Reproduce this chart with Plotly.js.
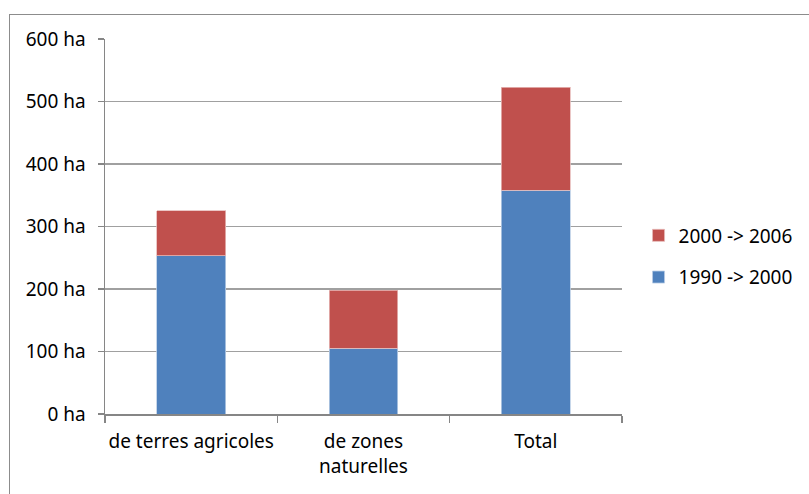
<!DOCTYPE html>
<html>
<head>
<meta charset="utf-8">
<script src="https://cdn.plot.ly/plotly-3.0.1.min.js"></script>
<style>
  html, body { margin: 0; padding: 0; background: #ffffff; }
  #wrap { position: relative; width: 809px; height: 494px; overflow: hidden; }
  #chart { position: absolute; left: 0; top: 0; width: 809px; height: 494px; }
  #frame { position: absolute; left: 9px; top: 14px; width: 820px; height: 500px;
           border-left: 1.5px solid #8c8c8c; border-top: 1.5px solid #8c8c8c; pointer-events: none; }
</style>
</head>
<body>
<div id="wrap">
  <div id="chart"></div>
  <div id="frame"></div>
</div>
<script>
const categories = ["de terres agricoles", "de zones<br>naturelles", "Total"];
const series1990 = [253, 105, 358];
const series2000 = [72, 93, 165];
const seriesNames = ["1990 -> 2000", "2000 -> 2006"];
const yTicks = [0, 100, 200, 300, 400, 500, 600];
const yTickLabels = yTicks.map(v => v + " ha");

const font = "Noto Sans, Open Sans, sans-serif";

const traces = [
  { type: "bar", name: seriesNames[0], x: categories, y: series1990,
    marker: { color: "#4F81BD", line: { color: "#b9cde5", width: 0.8 } },
    legendgroup: "a", legendrank: 2, hoverinfo: "x+y+name" },
  { type: "bar", name: seriesNames[1], x: categories, y: series2000,
    marker: { color: "#C0504D", line: { color: "#e6b9b8", width: 0.8 } },
    legendgroup: "b", legendrank: 1, hoverinfo: "x+y+name" }
];

const layout = {
  width: 809, height: 494,
  margin: { l: 105, r: 186, t: 39, b: 80, pad: 0 },
  paper_bgcolor: "#ffffff", plot_bgcolor: "#ffffff",
  barmode: "stack",
  bargap: 0.6,
  font: { family: font, size: 19, color: "#000000" },
  showlegend: true,
  legend: {
    x: 1.03, xanchor: "left", y: 0.42, yanchor: "middle",
    traceorder: "grouped", tracegroupgap: 14,
    font: { family: font, size: 19, color: "#000000" },
    bgcolor: "rgba(0,0,0,0)", borderwidth: 0
  },
  xaxis: {
    type: "category",
    tickangle: 0,
    showline: true, linecolor: "#868686", linewidth: 1.5,
    ticks: "outside", tickson: "boundaries", ticklen: 7, tickcolor: "#868686", tickwidth: 1.5,
    showgrid: false, zeroline: false,
    tickfont: { family: font, size: 19, color: "#000000" },
    ticklabelstandoff: 10
  },
  yaxis: {
    range: [0, 600],
    tickmode: "array",
    tickvals: yTicks,
    ticktext: yTickLabels,
    showline: true, linecolor: "#868686", linewidth: 1.5,
    ticks: "outside", ticklen: 6, tickcolor: "#868686", tickwidth: 1.5,
    showgrid: true, gridcolor: "#a0a0a0", gridwidth: 1.2,
    zeroline: false,
    tickfont: { family: font, size: 19, color: "#000000" },
    ticklabelstandoff: 8
  }
};

Plotly.newPlot("chart", traces, layout, { displayModeBar: false, staticPlot: true });
</script>
</body>
</html>
